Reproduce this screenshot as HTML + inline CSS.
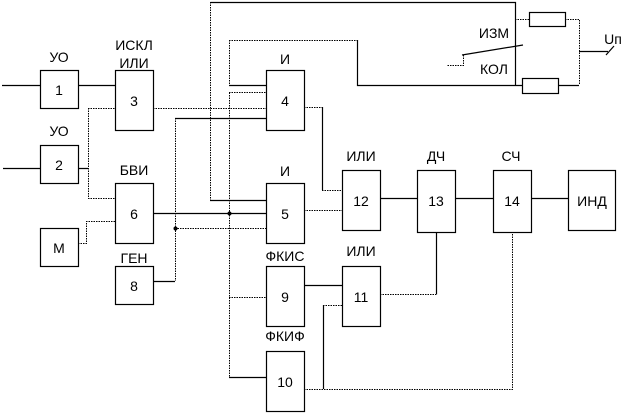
<!DOCTYPE html>
<html><head><meta charset="utf-8"><style>
html,body{margin:0;padding:0;background:#fff}
svg{display:block}
text{font-family:"Liberation Sans","DejaVu Sans",sans-serif;fill:#000}
</style></head><body>
<svg width="638" height="415" viewBox="0 0 638 415" xmlns="http://www.w3.org/2000/svg">
<g fill="none" stroke="#000" stroke-width="1.2">
<rect x="40.5" y="70.5" width="38" height="38"/>
<rect x="40.5" y="145.5" width="38" height="38"/>
<rect x="115.5" y="70.5" width="38" height="60"/>
<rect x="115.5" y="183.5" width="38" height="60"/>
<rect x="40.5" y="228.5" width="38" height="38"/>
<rect x="115.5" y="266.5" width="38" height="38"/>
<rect x="266.5" y="70.5" width="38" height="60"/>
<rect x="266.5" y="183.5" width="38" height="60"/>
<rect x="266.5" y="266.5" width="38" height="60"/>
<rect x="266.5" y="351.5" width="38" height="60"/>
<rect x="342.5" y="170.5" width="38" height="60"/>
<rect x="342.5" y="266.5" width="38" height="60"/>
<rect x="417.5" y="170.5" width="38" height="62"/>
<rect x="493.5" y="170.5" width="38" height="62"/>
<rect x="568.5" y="170.5" width="47" height="60"/>
<rect x="529.5" y="12.5" width="36" height="14"/>
<rect x="522.5" y="78.5" width="36" height="15"/>
<path d="M2 85.5H40M78 85.5H115M3 168.5H40M78 168.5H88"/>
<path d="M210 200.5H266M210.5 2.5H515.5V85.5M229 85.5H266M357.5 40V85.5H522"/>
<path d="M462 55L523 45"/>
<path d="M558 85.5H579M579 51.5H608M606 55L614 46"/>
<path d="M153 213.5H266M175 118.5H266M153 281.5H175"/>
<path d="M322.5 107V190"/>
<path d="M380 198.5H417M455 198.5H493M531 198.5H568"/>
<path d="M436.5 232V294.5M304 285.5H342M323.5 305V389M229 377.5H266"/>
</g>
<g fill="none" stroke="#000" stroke-width="1" stroke-dasharray="1.5 1">
<path d="M88.5 108V198.5H115M88 108.5H115M153 108.5H266"/>
<path d="M210.5 2V200"/>
<path d="M229 40.5H357M229.5 40V85"/>
<path d="M229.5 92.5V377M229 92.5H266M229 297.5H266"/>
<path d="M175.5 118V281M175 228.5H266"/>
<path d="M304 107.5H322M322 190.5H342M304 210.5H342"/>
<path d="M380 294.5H436M323 305.5H342"/>
<path d="M304 389.5H512.5V232"/>
<path d="M78 243.5H86.5V221.5H115"/>
<path d="M515 19.5H529M565 19.5H579.5V85"/>
<path d="M463.5 55V65.5H447"/>
</g>
<circle cx="229.5" cy="213.5" r="2"/>
<circle cx="175.5" cy="228.5" r="2"/>
<g font-size="14" text-anchor="middle">
<text x="59" y="95">1</text><text x="59" y="170">2</text>
<text x="134" y="106">3</text><text x="134" y="219">6</text>
<text x="59" y="253">M</text><text x="134" y="291">8</text>
<text x="285" y="106">4</text><text x="285" y="219">5</text>
<text x="285" y="302">9</text><text x="285" y="387">10</text>
<text x="361" y="206">12</text><text x="436" y="206">13</text>
<text x="512" y="206">14</text><text x="592" y="206">ИНД</text>
<text x="361" y="302">11</text>
<text x="59" y="62">УО</text><text x="59" y="136">УО</text>
<text x="134" y="50">ИСКЛ</text><text x="134" y="68">ИЛИ</text>
<text x="134" y="175">БВИ</text><text x="134" y="263">ГЕН</text>
<text x="285" y="64">И</text><text x="285" y="176">И</text>
<text x="361" y="161">ИЛИ</text><text x="436" y="161">ДЧ</text>
<text x="511" y="161">СЧ</text>
<text x="285" y="261">ФКИС</text><text x="285" y="341">ФКИФ</text>
<text x="361" y="256">ИЛИ</text>
<text x="494" y="38">ИЗМ</text><text x="494" y="74">КОЛ</text>
<text x="613" y="44">Uп</text>
</g>
</svg>
</body></html>
